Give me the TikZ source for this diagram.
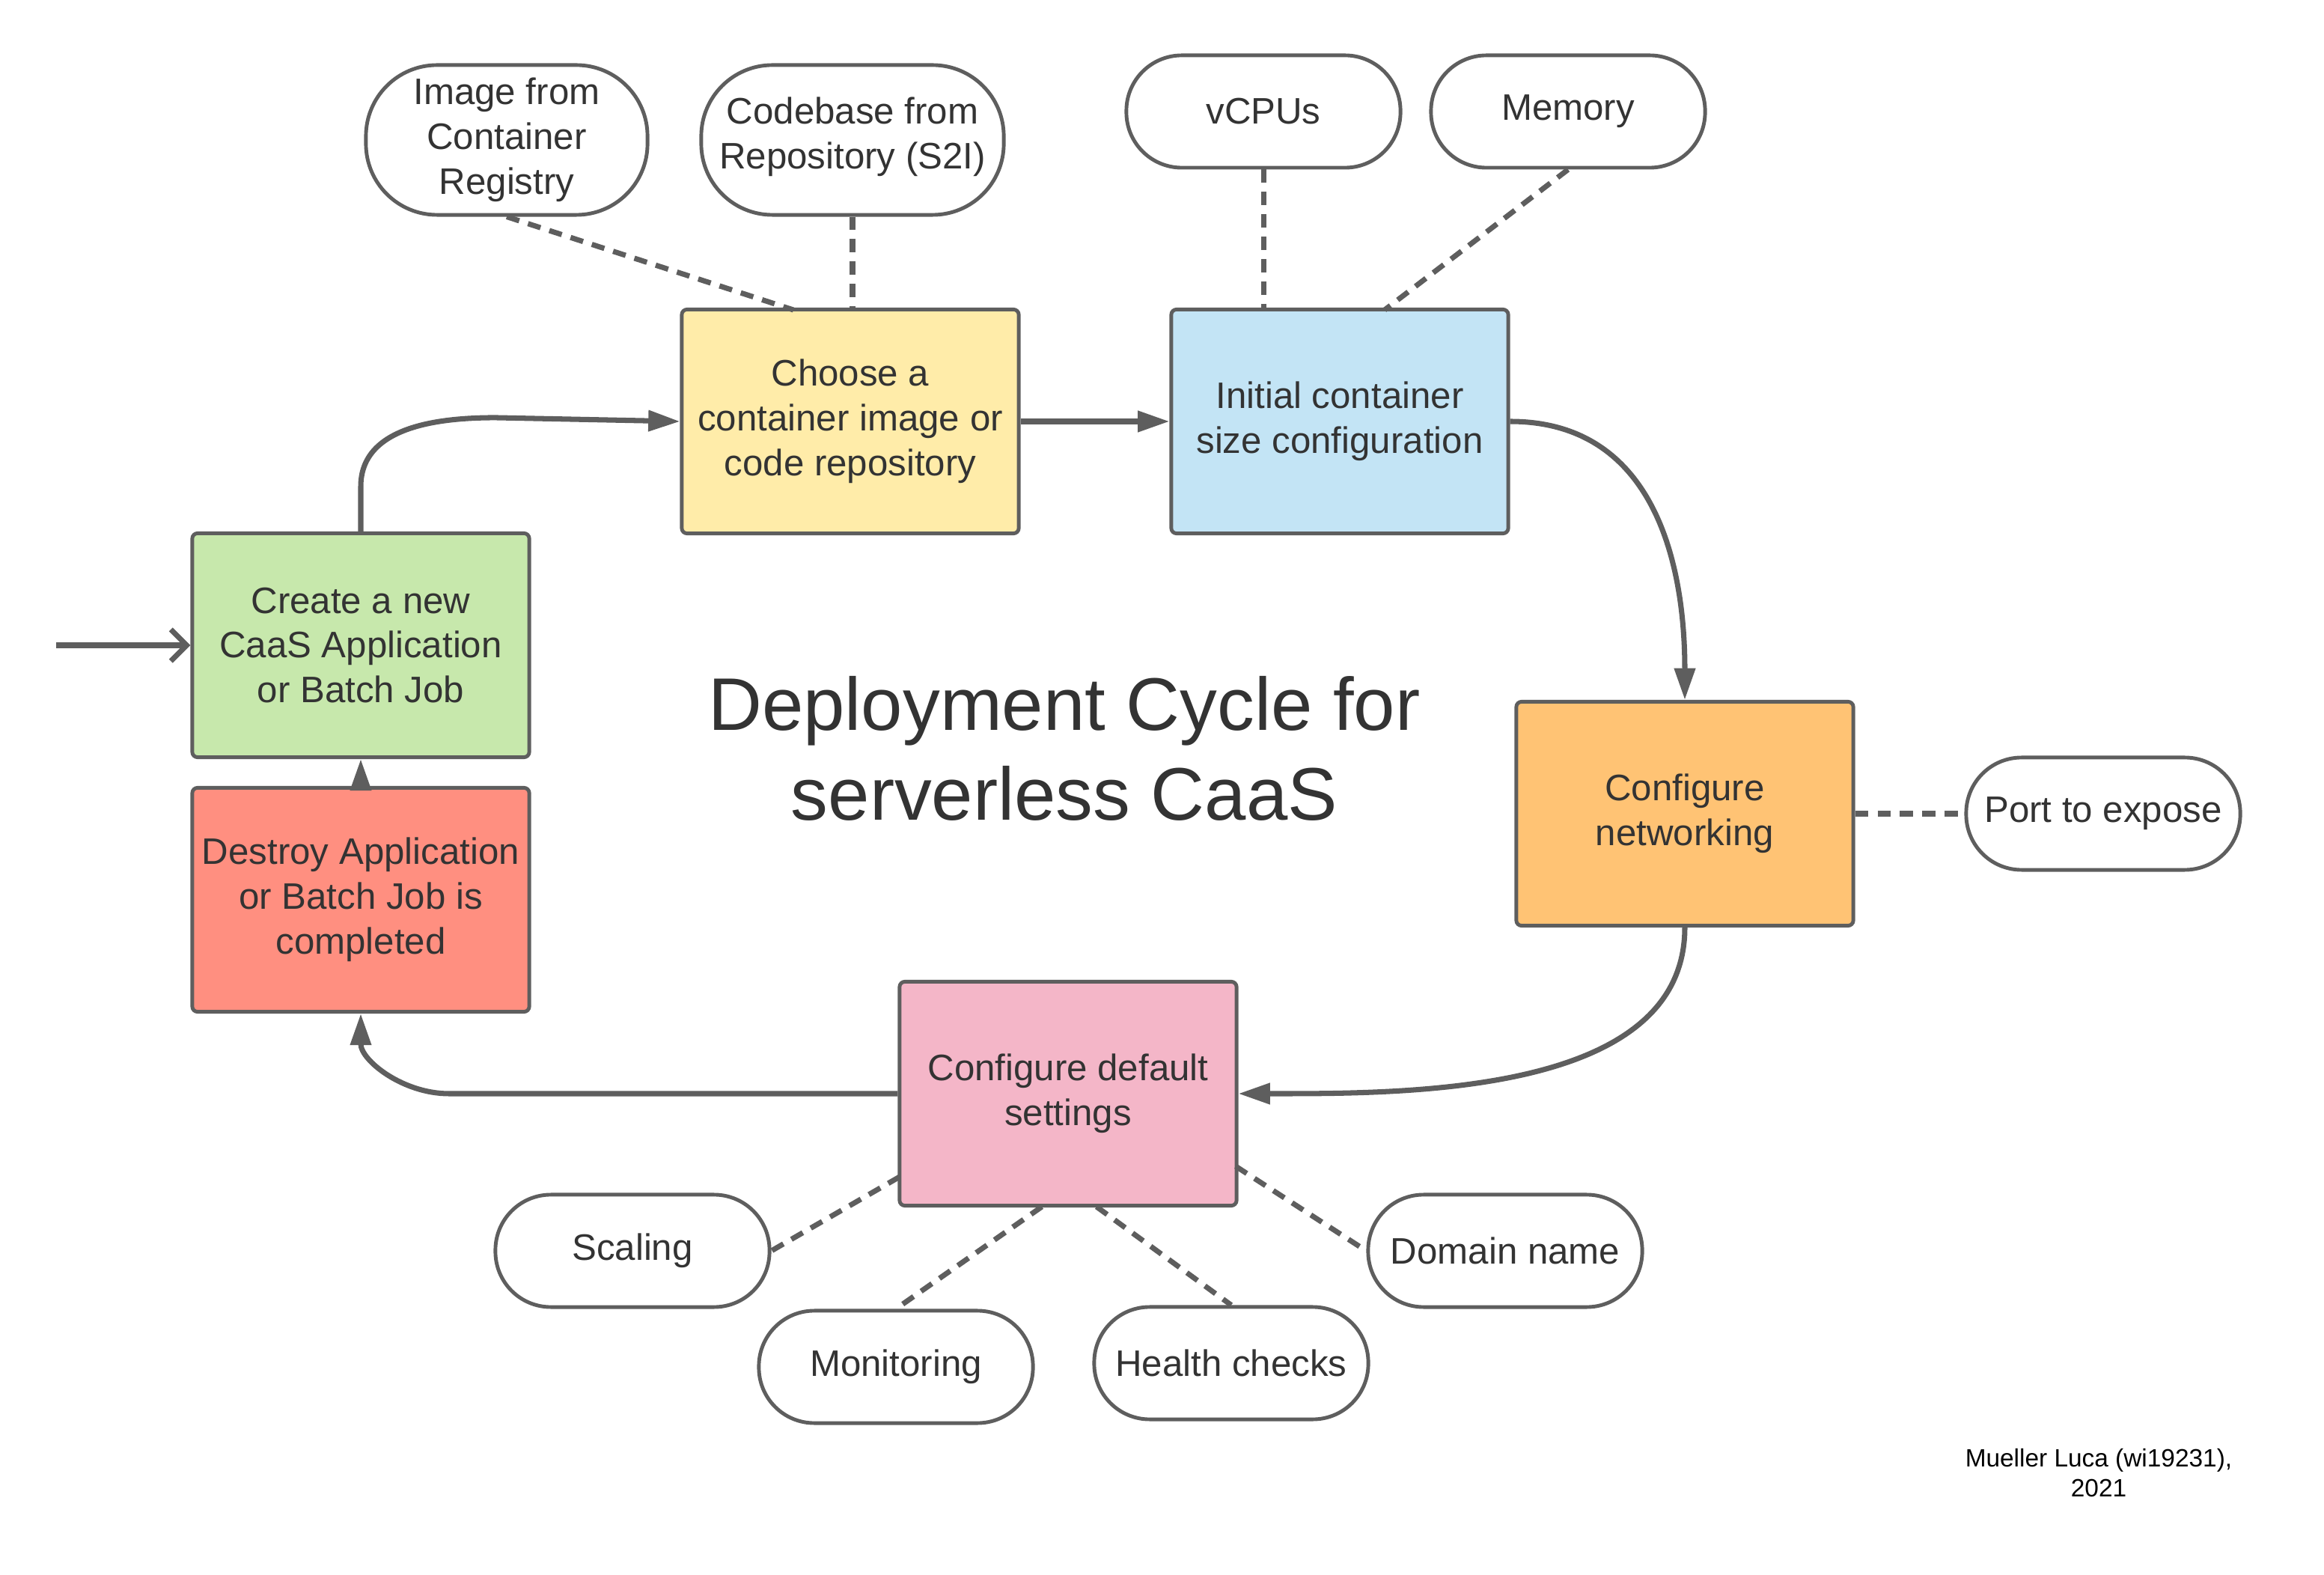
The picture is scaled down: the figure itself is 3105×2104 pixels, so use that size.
\documentclass[tikz,border=0pt]{standalone}
\usepackage{fontspec}
\setmainfont{Liberation Sans}
\usetikzlibrary{arrows.meta}
\definecolor{linegray}{HTML}{5E5E5E}
\definecolor{textgray}{HTML}{333333}
\definecolor{boxgreen}{HTML}{C7E8AC}
\definecolor{boxyellow}{HTML}{FFECA9}
\definecolor{boxblue}{HTML}{C3E4F5}
\definecolor{boxorange}{HTML}{FFC374}
\definecolor{boxred}{HTML}{FF8F80}
\definecolor{boxpink}{HTML}{F4B6C8}
\begin{document}
\begin{tikzpicture}[x=0.01cm,y=0.01cm,
  box/.style={draw=linegray,line width=1.4pt,rounded corners=2pt,minimum width=4.5cm,minimum height=2.99cm,
    align=center,text=textgray,font=\fontsize{14}{17}\selectfont},
  pill/.style={draw=linegray,line width=1.4pt,fill=white,rounded corners=0.74cm,minimum width=3.66cm,minimum height=1.5cm,
    align=center,text=textgray,font=\fontsize{14}{17}\selectfont},
  tallpill/.style={pill,rounded corners=0.95cm,minimum height=2cm},
  flow/.style={draw=linegray,line width=2pt,-{Triangle[length=12pt,width=7.7pt]}},
  link/.style={draw=linegray,line width=2pt,dash pattern=on 5pt off 3.5pt}]
\useasboundingbox (0,0) rectangle (3105,-2104);
% process steps
\node[box,fill=boxgreen] (create) at (482,-862) {Create a new\\CaaS Application\\or Batch Job};
\node[box,fill=boxyellow] (choose) at (1136,-563) {Choose a\\container image or\\code repository};
\node[box,fill=boxblue] (initial) at (1790,-563) {Initial container\\size configuration};
\node[box,fill=boxorange] (network) at (2251,-1087) {Configure\\networking};
\node[box,fill=boxpink] (defaults) at (1427,-1461) {Configure default\\settings};
\node[box,fill=boxred] (destroy) at (482,-1202) {Destroy Application\\or Batch Job is\\completed};
% options
\node[tallpill,minimum width=3.76cm] (registry) at (677,-187) {Image from\\Container\\Registry};
\node[tallpill,minimum width=4.04cm] (codebase) at (1139,-187) {};
\node[align=center,text=textgray,font=\fontsize{14}{17}\selectfont] (codetext) at (1139,-183) {Codebase from\\Repository (S2I)};
\node[pill] (vcpu) at (1688,-149) {vCPUs};
\node[pill] (memory) at (2095,-149) {Memory};
\node[pill] (port) at (2810,-1087) {Port to expose};
\node[pill] (scaling) at (845,-1671) {Scaling};
\node[pill] (monitoring) at (1197,-1826) {Monitoring};
\node[pill] (health) at (1645,-1821) {Health checks};
\node[pill] (domain) at (2011,-1671) {Domain name};
% texts
\node[align=center,text=textgray,font=\fontsize{28.3}{34}\selectfont] (title) at (1422,-1000) {Deployment Cycle for\\serverless CaaS};
\node[align=center,font=\fontsize{9.5}{11.4}\selectfont] (author) at (2804,-1968) {Mueller Luca (wi19231),\\2021};
% cycle
\coordinate (start) at (75,-862);
\draw[draw=linegray,line width=2pt,-{Straight Barb[length=6pt,width=12pt]}] (start) -- (create.west);
\draw[flow] (create.north) -- ++(0,60) to[out=90,in=180] ++(180,92) -- (choose.west);
\draw[flow] (choose.east) -- (initial.west);
\draw[flow] (initial.east) to[out=0,in=90,looseness=1.1] (network.north);
\draw[flow] (network.south) to[out=-90,in=0,looseness=0.9] (defaults.east);
\draw[flow] (defaults.west) -- (600,-1461) to[out=180,in=-90] (destroy.south);
\draw[flow] (destroy.north) -- (create.south);
% options links
\draw[link] (registry.south) -- (1060,-414);
\draw[link] (codebase.south) -- (codebase.south |- choose.north);
\draw[link] (vcpu.south) -- (vcpu.south |- initial.north);
\draw[link] (memory.south) -- (1850,-414);
\draw[link] (network.east) -- (port.west);
\draw[link] (1202,-1572) -- (scaling.east);
\draw[link] (1392,-1612) -- (monitoring.north);
\draw[link] (1465,-1612) -- (health.north);
\draw[link] (1651,-1558) -- (domain.west);
\end{tikzpicture}
\end{document}
